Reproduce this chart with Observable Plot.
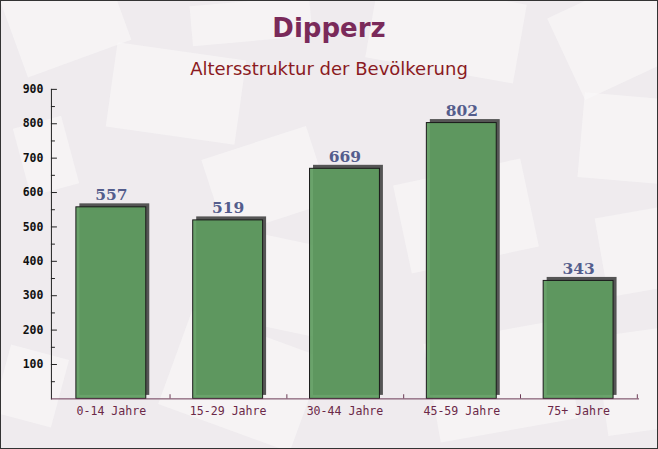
<!DOCTYPE html>
<html><head><meta charset="utf-8">
<script src="https://cdn.jsdelivr.net/npm/d3@7"></script>
<script src="https://cdn.jsdelivr.net/npm/@observablehq/plot@0.6"></script>
<style>
html,body{margin:0;padding:0;}
#wrap{position:relative;width:658px;height:449px;background:#efebee;box-sizing:border-box;border:1px solid #333;overflow:hidden;}
.env{position:absolute;background:#faf8f9;opacity:0.6;}
#title{position:absolute;left:0;top:12px;width:100%;text-align:center;font:bold 26px "DejaVu Sans",sans-serif;color:#7a2a5a;}
#sub{position:absolute;left:0;top:57px;width:100%;text-align:center;font:18px "DejaVu Sans",sans-serif;color:#8b1a22;}
#chart{position:absolute;left:-1px;top:-1px;}
</style></head>
<body>
<div id="wrap">
<div class="env" style="left:10px;top:-20px;width:110px;height:80px;transform:rotate(-20deg)"></div>
<div class="env" style="left:110px;top:50px;width:130px;height:85px;transform:rotate(8deg)"></div>
<div class="env" style="left:190px;top:0px;width:120px;height:40px;transform:rotate(-5deg)"></div>
<div class="env" style="left:370px;top:-10px;width:150px;height:80px;transform:rotate(10deg)"></div>
<div class="env" style="left:560px;top:-10px;width:110px;height:90px;transform:rotate(-25deg)"></div>
<div class="env" style="left:580px;top:95px;width:90px;height:85px;transform:rotate(5deg)"></div>
<div class="env" style="left:600px;top:210px;width:80px;height:80px;transform:rotate(-10deg)"></div>
<div class="env" style="left:20px;top:120px;width:50px;height:70px;transform:rotate(-15deg)"></div>
<div class="env" style="left:210px;top:140px;width:110px;height:80px;transform:rotate(-18deg)"></div>
<div class="env" style="left:400px;top:170px;width:130px;height:90px;transform:rotate(-12deg)"></div>
<div class="env" style="left:0px;top:350px;width:60px;height:70px;transform:rotate(15deg)"></div>
<div class="env" style="left:170px;top:330px;width:140px;height:100px;transform:rotate(20deg)"></div>
<div class="env" style="left:430px;top:330px;width:140px;height:100px;transform:rotate(-10deg)"></div>
<div class="env" style="left:230px;top:240px;width:120px;height:90px;transform:rotate(12deg)"></div>
<div class="env" style="left:600px;top:330px;width:80px;height:100px;transform:rotate(-8deg)"></div>
<div id="title">Dipperz</div><div id="sub">Altersstruktur der Bevölkerung</div><div id="chart"></div></div>
<script>
const categories = ["0-14 Jahre","15-29 Jahre","30-44 Jahre","45-59 Jahre","75+ Jahre"];
const values = [557, 519, 669, 802, 343];
const yTicks = [100,200,300,400,500,600,700,800,900];
const yMinorTicks = [50,150,250,350,450,550,650,750,850];

const data = categories.map((c,i)=>({cat:c, v:values[i]}));
const W = 658, H = 449, mL = 51, mR = 19, mT = 89, mB = 50;
const bw = (W - mL - mR) / categories.length;

const plot = Plot.plot({
  width: W, height: H,
  marginLeft: mL, marginRight: mR, marginTop: mT, marginBottom: mB,
  style: {background: "transparent", overflow: "visible"},
  x: {domain: categories, paddingInner: 0.4, paddingOuter: 0.2, label: null},
  y: {domain: [0, 900], label: null},
  marks: [
    Plot.rectY(data, {x: "cat", y: "v", fill: "#555555", dx: 3.5, dy: -3.5}),
    Plot.barY(data, {x: "cat", y: "v", fill: "#5f9c60", fillOpacity: 0.93, stroke: "#1a1a1a", strokeWidth: 1}),
    Plot.text(data, {x: "cat", y: "v", text: d => String(d.v), dy: -12, fill: "#545d8c",
      fontSize: 15.5, fontWeight: "bold", fontFamily: "DejaVu Serif, serif"}),
    Plot.axisY({ticks: yTicks, tickSize: -6, tickPadding: 14, tickFormat: d => String(d),
      fontSize: 11.5, fontWeight: "bold", fontFamily: "DejaVu Sans Mono, monospace", color: "#111", stroke: "#222"}),
    Plot.axisY({ticks: yMinorTicks, tickSize: -4, tickFormat: () => "", stroke: "#222"}),
    Plot.frame({anchor: "left", stroke: "#222"}),
    Plot.frame({anchor: "bottom", stroke: "#6b3a55"}),
    Plot.ruleX(categories, {x: d => d, dx: bw/2, y1: 0, y2: 12, stroke: "#6b3a55"}),
    Plot.axisX({tickSize: 0, tickPadding: 8, fontSize: 11.6, fontFamily: "DejaVu Sans Mono, monospace", color: "#6b2848"})
  ]
});
document.getElementById("chart").appendChild(plot);
</script>
</body></html>
